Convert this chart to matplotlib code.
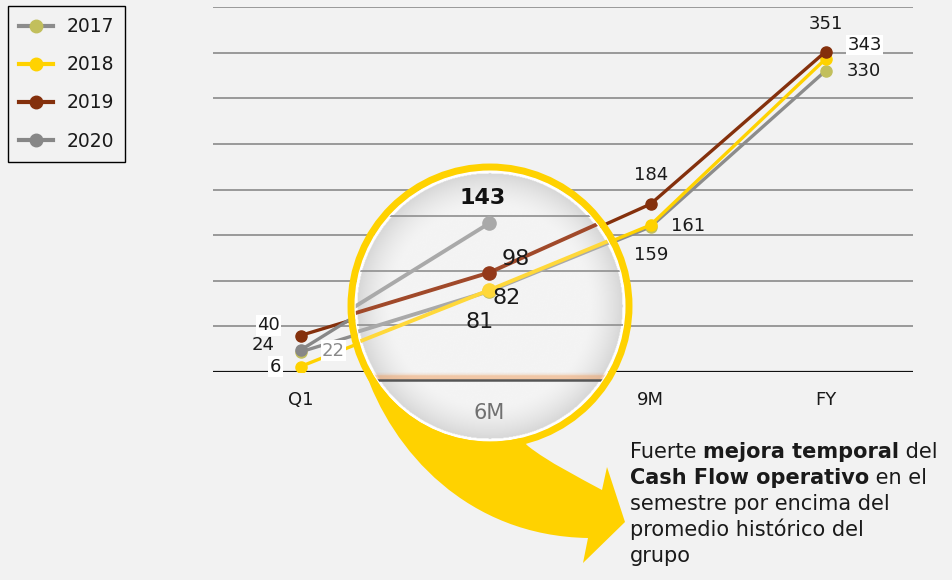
import matplotlib
matplotlib.use("Agg")
import matplotlib.pyplot as plt
import numpy as np
from matplotlib.patches import Circle, PathPatch
from matplotlib.path import Path
from matplotlib.lines import Line2D

periods = ["Q1", "6M", "9M", "FY"]
years = ["2017", "2018", "2019", "2020"]
cf_2017 = [22, 81, 159, 330]
cf_2018 = [6, 82, 161, 343]
cf_2019 = [40, 98, 184, 351]
cf_2020 = [24, 143]

W, H = 952, 580
BG = "#f2f2f2"
YELLOW = "#ffd200"
OLIVE = "#c2bf5c"
BROWN = "#84300c"
GREY = "#878787"
TXT = "#1a1a1a"

plt.rcParams["font.family"] = "DejaVu Sans"

fig = plt.figure(figsize=(W / 100, H / 100), dpi=100, facecolor=BG)


def inch(x, y):
    # pixel position (top-left origin) -> inches for dpi_scale_trans
    return x / 100, (H - y) / 100


# ---- main chart: pixels x 213..913, y 7 (400) .. 372 (0)
ax = fig.add_axes([213 / W, 1 - 372 / H, 700 / W, 365 / H])
ax.set_facecolor(BG)
ax.set_xlim(-0.5, 3.5)
ax.set_ylim(0, 400)
for s in ax.spines.values():
    s.set_visible(False)
ax.set_yticks([])
for v in range(50, 401, 50):
    ax.axhline(v, color="#8a8a8a", lw=1.2, zorder=1)
ax.axhline(0, color="#111111", lw=1.6, zorder=1)
# the 6M label is drawn inside the magnifier
ax.set_xticks(range(len(periods)), [p if p != "6M" else "" for p in periods])
ax.tick_params(axis="x", length=0, pad=14, labelsize=13, labelcolor=TXT)

series = [
    (cf_2017, "#8c8c8c", OLIVE),
    (cf_2018, YELLOW, YELLOW),
    (cf_2019, BROWN, BROWN),
    (cf_2020, GREY, GREY),
]
for i, (vals, lc, mc) in enumerate(series):
    ax.plot(range(len(vals)), vals, color=lc, lw=2.4, marker="o", ms=8,
            mfc=mc, mec=mc, zorder=3 + i, solid_capstyle="round")

white = dict(boxstyle="square,pad=0.08", fc="white", ec="none")


def lab(ax_, vals, idx, dx, dy, box=False, **kw):
    opts = dict(ha="center", va="center", fontsize=13, color=TXT, zorder=10)
    opts.update(kw)
    ax_.annotate(str(vals[idx]), (idx, vals[idx]), xytext=(dx, dy),
                 textcoords="offset pixels", bbox=white if box else None, **opts)


lab(ax, cf_2019, 3, 0, 28)
lab(ax, cf_2018, 3, 39, 14, box=True)
lab(ax, cf_2017, 3, 38, 0)
lab(ax, cf_2019, 2, 1, 29)
lab(ax, cf_2018, 2, 38, -1)
lab(ax, cf_2017, 2, 1, -28)
lab(ax, cf_2019, 0, -32, 10, box=True)
lab(ax, cf_2020, 0, -37, 5)
lab(ax, cf_2018, 0, -25, 0, box=True)
lab(ax, cf_2017, 0, 33, 1, box=True, color="#8a8a8a")

# ---- yellow tail of the magnifier
verts = [inch(420, 385), inch(364, 368),
         inch(392, 452), inch(468, 536), inch(588, 538),
         inch(583, 563), inch(625, 522), inch(607, 467), inch(602, 490),
         inch(580, 478), inch(548, 462), inch(528, 446),
         inch(480, 400), inch(420, 385)]
codes = [Path.MOVETO, Path.LINETO,
         Path.CURVE4, Path.CURVE4, Path.CURVE4,
         Path.LINETO, Path.LINETO, Path.LINETO, Path.LINETO,
         Path.CURVE4, Path.CURVE4, Path.CURVE4,
         Path.LINETO, Path.CLOSEPOLY]
fig.add_artist(PathPatch(Path(verts, codes), fc=YELLOW, ec="none",
                         transform=fig.dpi_scale_trans, zorder=2))

# ---- magnifier: zoomed copy of the 6M area
CX, CY, R = 490, 306, 135
MAG, MX, MY = 1.2, 408, 332


def px_to_data(px, py):
    ox = MX + (px - MX) / MAG
    oy = MY + (py - MY) / MAG
    return (ox - 213) / 175 - 0.5, (372 - oy) * 400 / 365


ins = fig.add_axes([(CX - R) / W, 1 - (CY + R) / H, 2 * R / W, 2 * R / H], zorder=5)
x0, y0 = px_to_data(CX - R, CY + R)
x1, y1 = px_to_data(CX + R, CY - R)
ins.set_xlim(x0, x1)
ins.set_ylim(y0, y1)
ins.axis("off")
ins.patch.set_alpha(0)

gx, gy = np.meshgrid(np.linspace(-1, 1, 400), np.linspace(-1, 1, 400))
rr = np.hypot(gx, gy)
shade = 0.955 - 0.11 * np.clip((rr - 0.72) / 0.26, 0, 1) ** 1.6
shade = np.where(rr > 0.985, 1.0, shade)
ins.imshow(shade, cmap="gray", vmin=0, vmax=1, extent=(x0, x1, y0, y1),
           aspect="auto", zorder=0, interpolation="bilinear")

for v in range(50, 401, 50):
    ins.axhline(v, color="#8f8f8f", lw=1.2, zorder=1)
for k, a in enumerate(np.linspace(0.35, 0.03, 8)):
    ins.axhline(0.8 + k * 0.8, color="#f0a060", lw=1.5, alpha=a, zorder=1)
ins.axhline(0, color="#555555", lw=1.8, zorder=2)

inner = [
    (cf_2017, "#a9a9a9", OLIVE),
    (cf_2018, "#ffd83a", "#ffd83a"),
    (cf_2019, "#a0492a", "#93391a"),
    (cf_2020, "#a9a9a9", "#a9a9a9"),
]
for i, (vals, lc, mc) in enumerate(inner):
    ins.plot(range(len(vals)), vals, color=lc, lw=2.8, marker="o", ms=9.5,
             mfc=mc, mec=mc, zorder=3 + i)

lab(ins, cf_2020, 1, -6, 25, fontsize=16, fontweight="bold", color="#111111")
lab(ins, cf_2019, 1, 27, 14, fontsize=16)
lab(ins, cf_2018, 1, 18, -8, fontsize=16)
lab(ins, cf_2017, 1, -9, -31, fontsize=16)
tx, ty = px_to_data(CX, 413)
ins.text(1, ty, periods[1], ha="center", va="center", fontsize=15, color="#707070")

clip = Circle((0.5, 0.5), 0.5, transform=ins.transAxes)
for art in ins.get_children():
    if art is not ins.patch:
        art.set_clip_path(clip)

ins.add_patch(Circle((0.5, 0.5), 135 / (2 * R), transform=ins.transAxes, fill=False,
                     ec="white", lw=1.0, clip_on=False, zorder=20))
ins.add_patch(Circle((0.5, 0.5), 139 / (2 * R), transform=ins.transAxes, fill=False,
                     ec=YELLOW, lw=5.0, clip_on=False, zorder=21))

# ---- legend
handles = [Line2D([], [], color=lc, lw=3, marker="o", ms=9, mfc=mc, mec=mc)
           for _, lc, mc in series]
leg = fig.legend(handles, years, loc="upper left", bbox_to_anchor=(8 / W, 1 - 6 / H),
                 frameon=True, fancybox=False, edgecolor="black", facecolor=BG,
                 framealpha=1, fontsize=13.5, handlelength=1.8, handletextpad=0.7,
                 labelspacing=1.02, borderpad=0.6, borderaxespad=0)
leg.get_frame().set_linewidth(1.0)
for t in leg.get_texts():
    t.set_color(TXT)

# ---- annotation text with bold runs
lines = [
    [("Fuerte ", "normal"), ("mejora temporal", "bold"), (" del", "normal")],
    [("Cash Flow operativo", "bold"), (" en el", "normal")],
    [("semestre por encima del", "normal")],
    [("promedio histórico del", "normal")],
    [("grupo", "normal")],
]
renderer = fig.canvas.get_renderer()


def run_width(s, weight, size):
    t1 = fig.text(0, 0, "|" + s + "|", fontsize=size, fontweight=weight)
    t2 = fig.text(0, 0, "||", fontsize=size, fontweight=weight)
    w = t1.get_window_extent(renderer).width - t2.get_window_extent(renderer).width
    t1.remove()
    t2.remove()
    return w


FS = 15
for k, runs in enumerate(lines):
    x = 630
    y = 458 + 26 * k
    for s, weight in runs:
        fig.text(*inch(x, y), s, fontsize=FS, fontweight=weight, color=TXT,
                 va="baseline", ha="left", transform=fig.dpi_scale_trans)
        x += run_width(s, weight, FS)

fig.savefig("out.png", dpi=100, facecolor=BG)
